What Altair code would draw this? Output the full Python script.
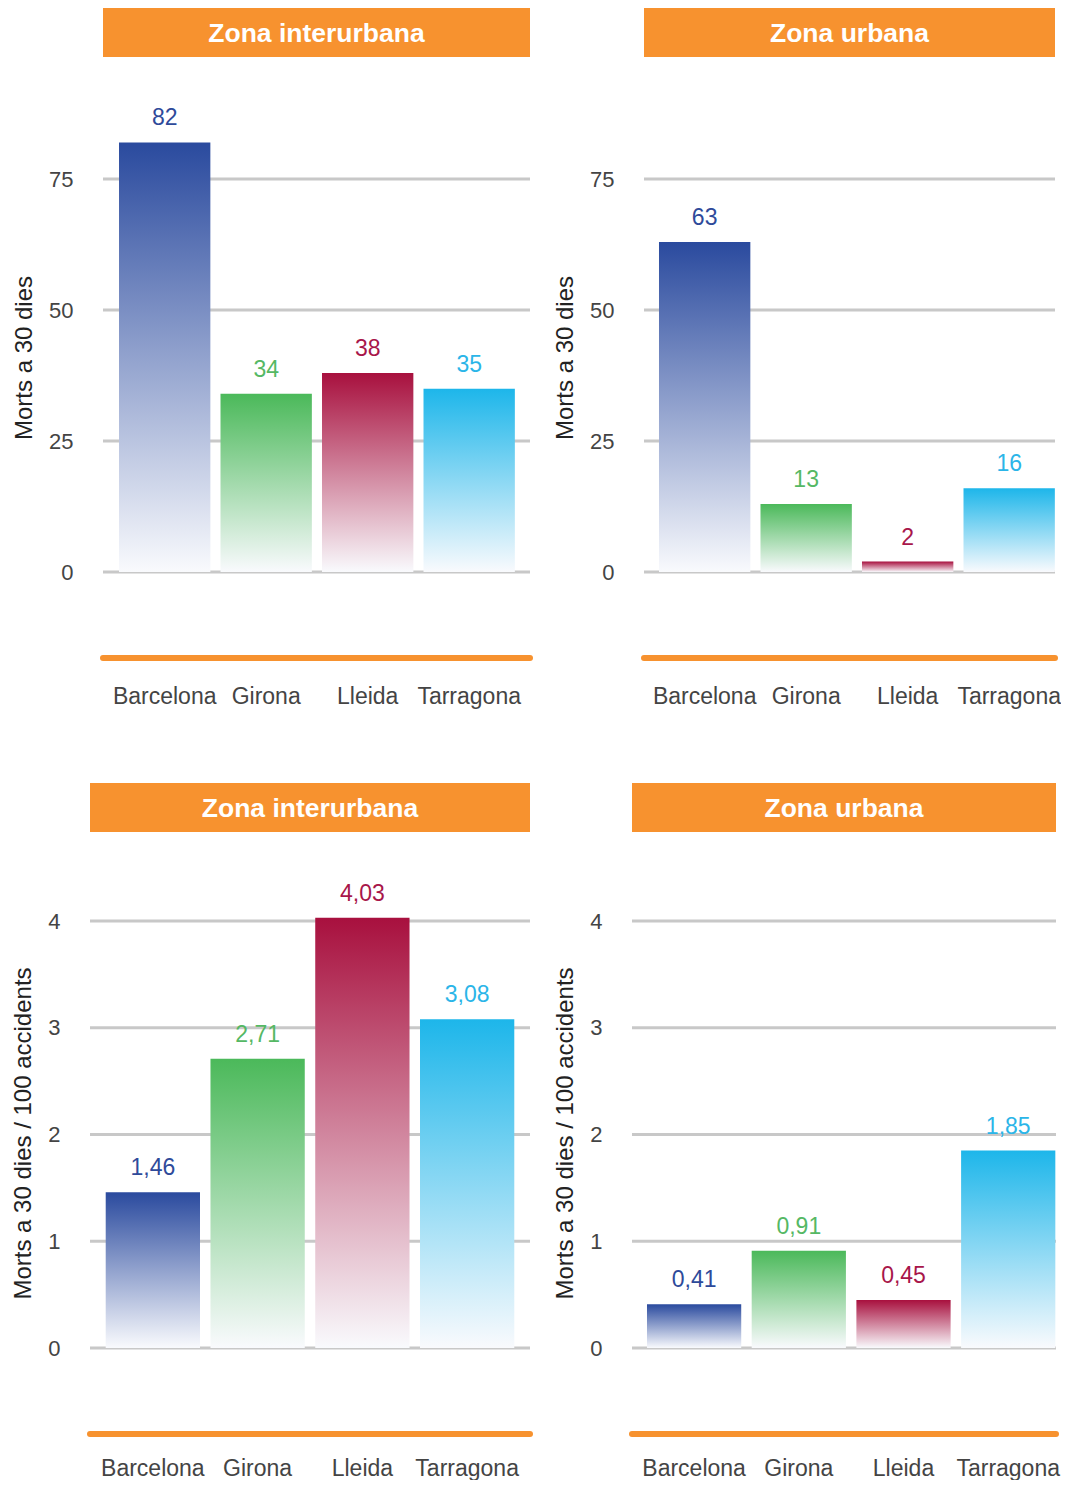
import altair as alt
import pandas as pd

provinces = ["Barcelona", "Girona", "Lleida", "Tarragona"]
morts_interurbana = [82, 34, 38, 35]
morts_urbana = [63, 13, 2, 16]
index_interurbana = [1.46, 2.71, 4.03, 3.08]
index_urbana = [0.41, 0.91, 0.45, 1.85]
bar_colors = ["#2A4A9E", "#4BB95A", "#A8103E", "#1DB6EA"]
label_colors = ["#2E4A9A", "#55B864", "#A8164A", "#2BB5E8"]
titles = ["Zona interurbana", "Zona urbana"]
y_title_top = "Morts a 30 dies"
y_title_bottom = "Morts a 30 dies / 100 accidents"
ticks_top = [0, 25, 50, 75]
ticks_bottom = [0, 1, 2, 3, 4]

FONT = "Liberation Sans"
ORANGE = "#F7922F"
GRID = "#C8C8C8"
HEADER_H = 49
AXIS_OFFSET = 86


def panel(values, title, ytitle, ticks, ymax, width, height, decimals,
          inset, pad_outer, align, ylabel_pad, xlabel_pad):
    df = pd.DataFrame({"prov": provinces, "v": values})
    if decimals:
        expr = "replace(format(datum.v, '.2f'), '.', ',')"
    else:
        expr = "format(datum.v, 'd')"
    x = alt.X(
        "prov:N",
        sort=provinces,
        scale=alt.Scale(paddingInner=0.1, paddingOuter=pad_outer, align=align),
        axis=alt.Axis(
            title=None, offset=AXIS_OFFSET, domain=False, ticks=False,
            labelPadding=xlabel_pad, labelFontSize=23, labelColor="#444444",
            labelAngle=0, grid=False, labelFont=FONT,
        ),
    )
    y = alt.Y(
        "v:Q",
        scale=alt.Scale(domain=[0, ymax], nice=False, zero=True),
        axis=alt.Axis(
            title=ytitle, values=ticks, domain=False, ticks=False, grid=False,
            labelPadding=ylabel_pad, labelFontSize=22, labelColor="#444444",
            labelFont=FONT, titleFont=FONT, titleFontSize=24,
            titleFontWeight="normal", titleColor="#222222", titlePadding=12,
            titleY=(height + AXIS_OFFSET) / 2,
        ),
    )
    gdf = pd.DataFrame({"v": ticks})
    grid = alt.Chart(gdf).mark_rule(color=GRID, strokeWidth=3).encode(
        y=y, x=alt.value(inset), x2=alt.value(width)
    )
    base = alt.Chart(df).transform_calculate(lab=expr).encode(x=x, y=y)
    layers = [grid]
    for p, c in zip(provinces, bar_colors):
        grad = alt.Gradient(
            gradient="linear",
            stops=[
                alt.GradientStop(color=c, offset=0),
                alt.GradientStop(color="#F9FAFD", offset=1),
            ],
            x1=0, x2=0, y1=0, y2=1,
        )
        layers.append(
            base.transform_filter(alt.datum.prov == p).mark_bar(color=grad)
        )
    text = base.mark_text(
        baseline="alphabetic", dy=-17, fontSize=23, font=FONT
    ).encode(
        text="lab:N",
        color=alt.Color(
            "prov:N", scale=alt.Scale(domain=provinces, range=label_colors),
            legend=None,
        ),
    )
    hdf = pd.DataFrame({"t": [title]})
    hrect = alt.Chart(hdf).mark_rect(color=ORANGE).encode(
        x=alt.value(inset), x2=alt.value(width),
        y=alt.value(-HEADER_H), y2=alt.value(0),
    )
    htext = alt.Chart(hdf).mark_text(
        color="white", fontWeight="bold", fontSize=26.5, font=FONT,
        baseline="middle", align="center",
    ).encode(
        x=alt.value((inset + width) / 2), y=alt.value(-HEADER_H / 2 + 1),
        text="t:N",
    )
    oline = alt.Chart(hdf).mark_rule(
        color=ORANGE, strokeWidth=6, strokeCap="round"
    ).encode(
        x=alt.value(inset), x2=alt.value(width),
        y=alt.value(height + AXIS_OFFSET),
    )
    return alt.layer(*layers, text, hrect, htext, oline).properties(
        width=width, height=height
    )


tl = panel(morts_interurbana, titles[0], y_title_top, ticks_top, 98.3,
           440, 515, False, 13, 0.2175, 0.657, 17, 27)
tr = panel(morts_urbana, titles[1], y_title_top, ticks_top, 98.3,
           411, 515, False, 0, 0.0746, 0.99, 30, 27)
bl = panel(index_interurbana, titles[0], y_title_bottom, ticks_bottom, 4.834,
           440, 516, True, 0, 0.15, 0.5, 30, 23)
br = panel(index_urbana, titles[1], y_title_bottom, ticks_bottom, 4.834,
           424, 516, True, 0, 0.0748, 0.957, 30, 23)

chart = alt.vconcat(
    alt.hconcat(tl, tr, spacing=20),
    alt.hconcat(bl, br, spacing=20),
    spacing=75,
).properties(
    padding={"left": 3, "top": 0, "right": 0, "bottom": 0}
).configure(font=FONT, view=alt.ViewConfig(stroke=None))

chart.save("out.html", embed_options={"renderer": "svg", "actions": False})
